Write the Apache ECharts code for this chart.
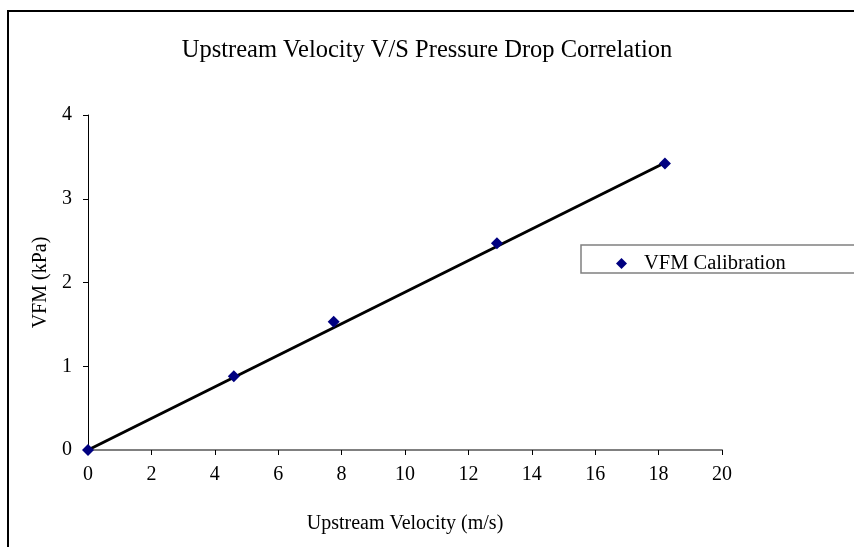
<!DOCTYPE html>
<html>
<head>
<meta charset="utf-8">
<script src="https://cdn.jsdelivr.net/npm/echarts@6/dist/echarts.min.js"></script>
<style>
html, body { margin: 0; padding: 0; background: #fff; }
#main { width: 854px; height: 547px; }
</style>
</head>
<body>
<div id="main"></div>
<script>
// data
var velocity = [0, 4.6, 7.75, 12.9, 18.2];
var vfm = [0, 0.88, 1.53, 2.47, 3.42];
// trendline end points
var trendX = [0, 18.2];
var trendY = [0, 3.43];
var xTicks = [0, 2, 4, 6, 8, 10, 12, 14, 16, 18, 20];
var yTicks = [0, 1, 2, 3, 4];

var serif = 'Liberation Serif, Times New Roman, serif';

var myChart = echarts.init(document.getElementById('main'));

var points = velocity.map(function (v, i) { return [v, vfm[i]]; });
var trend = trendX.map(function (v, i) { return [v, trendY[i]]; });

option = {
    animation: false,
    backgroundColor: '#fff',
    title: {
        text: 'Upstream Velocity V/S Pressure Drop Correlation',
        left: 'center',
        top: 33,
        textStyle: {
            fontFamily: serif,
            fontSize: 24.5,
            fontWeight: 'normal',
            color: '#000'
        }
    },
    graphic: [{
        type: 'rect',
        shape: { x: 8, y: 11, width: 900, height: 600 },
        style: { fill: 'none', stroke: '#000', lineWidth: 2 },
        silent: true
    }, {
        type: 'rect',
        shape: { x: 581, y: 245, width: 300, height: 28 },
        style: { fill: '#fff', stroke: '#808080', lineWidth: 1.5 },
        silent: true
    }],
    legend: {
        data: ['VFM Calibration'],
        left: 611,
        top: 248,
        icon: 'diamond',
        itemWidth: 11,
        itemHeight: 11,
        textStyle: {
            fontFamily: serif,
            fontSize: 20.5,
            color: '#000',
            padding: [0, 0, 0, 12]
        }
    },
    grid: {
        left: 88,
        right: 132,
        top: 115,
        bottom: 97
    },
    xAxis: {
        type: 'value',
        min: xTicks[0],
        max: xTicks[xTicks.length - 1],
        interval: 2,
        name: 'Upstream Velocity (m/s)',
        nameLocation: 'middle',
        nameGap: 64,
        nameTextStyle: { fontFamily: serif, fontSize: 20, color: '#000' },
        axisLine: { lineStyle: { color: '#808080', width: 2 } },
        axisTick: { length: 5, lineStyle: { color: '#000' } },
        axisLabel: { fontFamily: serif, fontSize: 20, color: '#000', margin: 15 },
        splitLine: { show: false }
    },
    yAxis: {
        type: 'value',
        min: yTicks[0],
        max: yTicks[yTicks.length - 1],
        interval: 1,
        name: 'VFM (kPa)',
        nameLocation: 'middle',
        nameGap: 37,
        nameTextStyle: { fontFamily: serif, fontSize: 20, color: '#000' },
        axisLine: { show: true, lineStyle: { color: '#000', width: 1 } },
        axisTick: { show: true, length: 5, lineStyle: { color: '#000' } },
        axisLabel: { fontFamily: serif, fontSize: 20, color: '#000', margin: 16 },
        splitLine: { show: false }
    },
    series: [{
        name: 'trend',
        type: 'line',
        data: trend,
        symbol: 'none',
        lineStyle: { color: '#000', width: 3 },
        z: 2
    }, {
        name: 'VFM Calibration',
        type: 'scatter',
        data: points,
        symbol: 'diamond',
        symbolSize: 12,
        itemStyle: { color: '#000080', opacity: 1 },
        z: 3
    }]
};
myChart.setOption(option);
</script>
</body>
</html>
